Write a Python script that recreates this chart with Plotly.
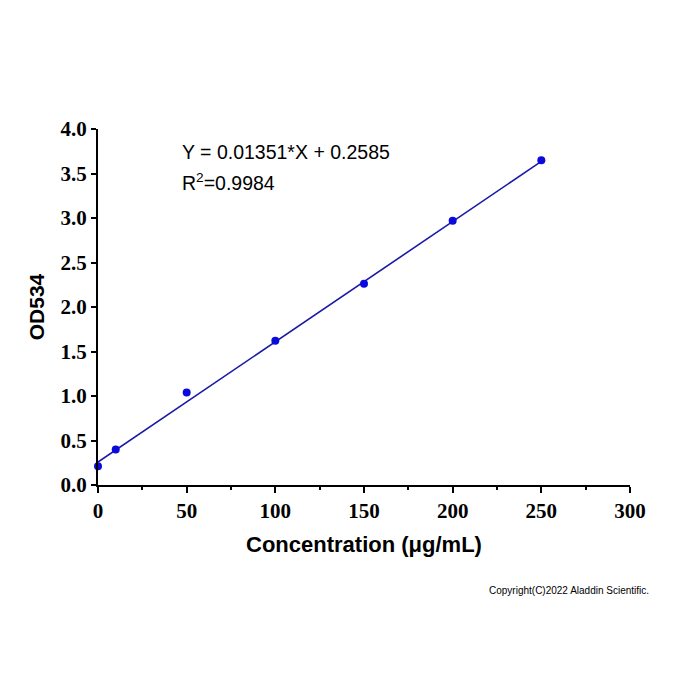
import plotly.graph_objects as go

conc = [0, 10, 50, 100, 150, 200, 250]
od = [0.21, 0.40, 1.04, 1.62, 2.26, 2.97, 3.65]
slope = 0.01351
intercept = 0.2585
fit_x = [0, 250]
fit_y = [slope * x + intercept for x in fit_x]
x_ticks = [0, 50, 100, 150, 200, 250, 300]
y_ticks = [0.0, 0.5, 1.0, 1.5, 2.0, 2.5, 3.0, 3.5, 4.0]

fig = go.Figure()
fig.add_trace(go.Scatter(x=fit_x, y=fit_y, mode="lines",
                         line=dict(color="#1a1aa6", width=1.6), showlegend=False, cliponaxis=False))
fig.add_trace(go.Scatter(x=conc, y=od, mode="markers",
                         marker=dict(color="#0a0adc", size=8), showlegend=False, cliponaxis=False))

tickfont = dict(family="Liberation Serif", size=21, color="black")
fig.update_layout(
    width=700, height=700,
    margin=dict(l=98, r=70, t=129, b=215),
    paper_bgcolor="white", plot_bgcolor="white",
    xaxis=dict(range=[0, 300], tickvals=x_ticks, ticktext=[f"<b>{v}</b>" for v in x_ticks],
               showline=True, linecolor="black", linewidth=2, ticks="outside", ticklen=6,
               tickwidth=2, tickcolor="black", showgrid=False, zeroline=False,
               tickfont=tickfont,
               minor=dict(dtick=25, ticks="outside", ticklen=3, tickwidth=2, tickcolor="black", showgrid=False),
               title=dict(text="<b>Concentration (μg/mL)</b>",
                          font=dict(family="Liberation Sans", size=22, color="black"), standoff=14)),
    yaxis=dict(range=[0, 4.0], tickvals=y_ticks, ticktext=[f"<b>{v:.1f}</b>" for v in y_ticks],
               showline=True, linecolor="black", linewidth=2, ticks="outside", ticklen=5,
               tickwidth=2, tickcolor="black", showgrid=False, zeroline=False,
               tickfont=tickfont,
               title=dict(text="<b>OD534</b>",
                          font=dict(family="Liberation Sans", size=21, color="black"), standoff=10)),
    annotations=[
        dict(x=180, y=152, xref="paper", yref="paper", text=f"Y = {slope}*X + {intercept}",
             showarrow=False, xanchor="left", yanchor="middle",
             font=dict(family="Liberation Sans", size=19.5, color="black")),
        dict(x=180, y=182, xref="paper", yref="paper", text="R<sup>2</sup>=0.9984",
             showarrow=False, xanchor="left", yanchor="middle",
             font=dict(family="Liberation Sans", size=19.5, color="black")),
        dict(x=651, y=590, xref="paper", yref="paper", text="Copyright(C)2022 Aladdin Scientific.",
             showarrow=False, xanchor="right", yanchor="middle",
             font=dict(family="Liberation Sans", size=10, color="black")),
    ],
)
# convert pixel positions of annotations to paper coords
pw, ph = 700 - 98 - 70, 700 - 129 - 215
for a in fig.layout.annotations:
    px, py = a.x, a.y
    a.x = (px - 98) / pw
    a.y = (700 - 215 - py) / ph
fig.write_html("out.html")
